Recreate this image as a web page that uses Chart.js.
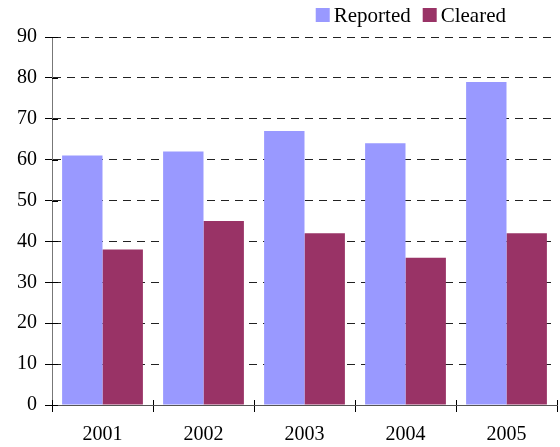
<!DOCTYPE html>
<html>
<head>
<meta charset="utf-8">
<script src="https://cdn.jsdelivr.net/npm/chart.js@4/dist/chart.umd.min.js"></script>
<style>
html,body{margin:0;padding:0;background:#fff;}
#wrap{width:560px;height:447px;}
</style>
</head>
<body>
<div id="wrap"><canvas id="c" width="560" height="447"></canvas></div>
<script>
const categories = ['2001', '2002', '2003', '2004', '2005'];
const reported = [61, 62, 67, 64, 79];
const cleared = [38, 45, 42, 36, 42];
const yTicks = [0, 10, 20, 30, 40, 50, 60, 70, 80, 90];
const seriesNames = ['Reported', 'Cleared'];
const seriesColors = ['#9999FF', '#993366'];

const FONT = '"Liberation Serif", "Times New Roman", Times, serif';

const innerTicks = {
  id: 'innerTicks',
  afterDraw(chart) {
    const ctx = chart.ctx;
    const ca = chart.chartArea;
    const y = chart.scales.y;
    ctx.save();
    ctx.strokeStyle = '#000';
    ctx.lineWidth = 1;
    ctx.setLineDash([]);
    yTicks.forEach(v => {
      const py = Math.round(y.getPixelForValue(v)) + 0.5;
      ctx.beginPath();
      ctx.moveTo(ca.left, py);
      ctx.lineTo(ca.left + 6, py);
      ctx.stroke();
    });
    const n = categories.length;
    for (let i = 0; i <= n; i++) {
      const px = Math.round(ca.left + (ca.right - ca.left) * i / n) + 0.5;
      ctx.beginPath();
      ctx.moveTo(px, ca.bottom);
      ctx.lineTo(px, ca.bottom - 5);
      ctx.stroke();
    }
    // legend
    ctx.font = '21px ' + FONT;
    ctx.textBaseline = 'middle';
    ctx.textAlign = 'left';
    const box = 14, gapText = 4, gapItem = 12, rightEdge = 506, cy = 15;
    const widths = seriesNames.map(s => ctx.measureText(s).width);
    let total = 0;
    widths.forEach((w, i) => { total += box + gapText + w + (i < widths.length - 1 ? gapItem : 0); });
    let x = rightEdge - total;
    seriesNames.forEach((s, i) => {
      ctx.fillStyle = seriesColors[i];
      ctx.fillRect(x, cy - box / 2, box, box);
      x += box + gapText;
      ctx.fillStyle = '#000';
      ctx.fillText(s, x, cy + 1);
      x += widths[i] + gapItem;
    });
    ctx.restore();
  }
};

function draw() {
  new Chart(document.getElementById('c'), {
    type: 'bar',
    data: {
      labels: categories,
      datasets: seriesNames.map((name, i) => ({
        label: name,
        data: i === 0 ? reported : cleared,
        backgroundColor: seriesColors[i],
        borderWidth: 0
      }))
    },
    options: {
      responsive: false,
      animation: false,
      devicePixelRatio: 1,
      layout: { padding: { left: 0, right: 3, top: 37, bottom: 0 } },
      datasets: { bar: { categoryPercentage: 0.8, barPercentage: 1.0 } },
      plugins: {
        legend: { display: false },
        tooltip: { enabled: false }
      },
      scales: {
        x: {
          grid: { display: true, drawOnChartArea: false, offset: true, tickLength: 7, color: '#000' },
          border: { display: true, color: '#555', width: 1 },
          ticks: { font: { family: FONT, size: 20 }, color: '#000', padding: 11 },
          afterFit(s) { s.height = 42; }
        },
        y: {
          min: 0, max: 90,
          ticks: { stepSize: 10, font: { family: FONT, size: 20 }, color: '#000', padding: 8 },
          grid: { color: '#222', lineWidth: 1, tickLength: 7, tickColor: '#000', tickBorderDash: [] },
          border: { display: true, color: '#777', width: 1, dash: [8, 6] },
          afterFit(s) { s.width = 52; }
        }
      }
    },
    plugins: [innerTicks]
  });
}

if (document.fonts && document.fonts.load) {
  document.fonts.load('20px "Liberation Serif"').then(draw, draw);
} else {
  draw();
}
</script>
</body>
</html>
